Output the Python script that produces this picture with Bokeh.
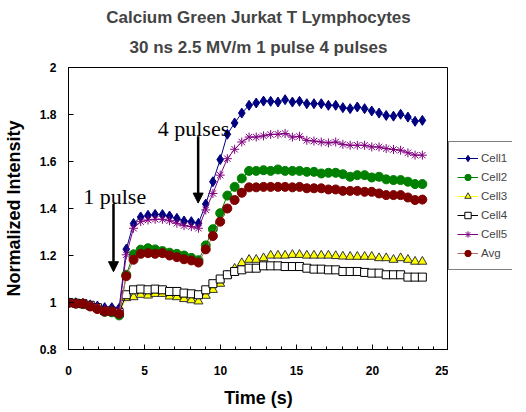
from bokeh.plotting import figure
from bokeh.layouts import row
from bokeh.models import (Range1d, FixedTicker, Legend, LegendItem, Title, Label,
                          Arrow, NormalHead, ColumnDataSource)
from bokeh.embed import file_html
from bokeh.resources import INLINE

# ---------------- data ----------------
time_s = [0.0, 0.48, 0.95, 1.43, 1.9, 2.38, 2.85, 3.33, 3.8, 4.28, 4.75, 5.23, 5.7, 6.18,
          6.65, 7.13, 7.6, 8.08, 8.55, 9.03, 9.5, 9.98, 10.45, 10.93, 11.4, 11.88, 12.35,
          12.83, 13.3, 13.78, 14.25, 14.73, 15.2, 15.68, 16.15, 16.63, 17.1, 17.58, 18.05,
          18.53, 19.0, 19.48, 19.95, 20.43, 20.9, 21.38, 21.85, 22.33, 22.8, 23.28]

cell1 = [1.0, 0.999, 0.996, 0.99, 0.985, 0.978, 0.978, 0.975,
         1.227, 1.336, 1.364, 1.371, 1.375, 1.374, 1.368, 1.358, 1.347, 1.344, 1.337,
         1.419, 1.514, 1.608, 1.716, 1.764, 1.806, 1.839, 1.849, 1.857, 1.856, 1.853,
         1.863, 1.853, 1.856, 1.846, 1.846, 1.846, 1.839, 1.839, 1.829, 1.825, 1.832,
         1.825, 1.815, 1.806, 1.796, 1.793, 1.801, 1.789, 1.771, 1.775]

cell2 = [1.0, 0.996, 0.993, 0.985, 0.975, 0.96, 0.958, 0.945,
         1.118, 1.205, 1.225, 1.231, 1.226, 1.219, 1.212, 1.207, 1.2, 1.19, 1.18,
         1.243, 1.312, 1.38, 1.455, 1.492, 1.528, 1.56, 1.56, 1.563, 1.56, 1.566,
         1.56, 1.56, 1.56, 1.556, 1.556, 1.549, 1.552, 1.552, 1.546, 1.535, 1.542,
         1.542, 1.532, 1.535, 1.524, 1.521, 1.521, 1.514, 1.504, 1.504]

cell3 = [1.0, 0.995, 0.995, 0.985, 0.975, 0.962, 0.96, 0.955,
         1.019, 1.023, 1.033, 1.03, 1.037, 1.037, 1.026, 1.023, 1.015, 1.01, 1.005,
         1.029, 1.054, 1.08, 1.116, 1.144, 1.168, 1.182, 1.182, 1.189, 1.2, 1.2,
         1.2, 1.203, 1.203, 1.2, 1.2, 1.2, 1.2, 1.198, 1.196, 1.195, 1.195,
         1.195, 1.195, 1.189, 1.189, 1.182, 1.189, 1.182, 1.174, 1.174]

cell4 = [1.0, 0.997, 0.995, 0.988, 0.978, 0.965, 0.963, 0.958,
         1.033, 1.054, 1.057, 1.054, 1.057, 1.054, 1.047, 1.047, 1.04, 1.037, 1.033,
         1.054, 1.08, 1.1, 1.118, 1.132, 1.139, 1.146, 1.146, 1.156, 1.156, 1.156,
         1.153, 1.153, 1.153, 1.146, 1.142, 1.142, 1.139, 1.139, 1.132, 1.132, 1.132,
         1.128, 1.125, 1.125, 1.118, 1.118, 1.118, 1.108, 1.108, 1.108]

cell5 = [1.0, 0.998, 0.995, 0.99, 0.983, 0.972, 0.968, 0.965,
         1.203, 1.316, 1.344, 1.351, 1.354, 1.354, 1.348, 1.337, 1.327, 1.323, 1.316,
         1.394, 1.464, 1.542, 1.612, 1.652, 1.683, 1.704, 1.704, 1.709, 1.715, 1.716,
         1.719, 1.704, 1.707, 1.69, 1.687, 1.683, 1.679, 1.683, 1.673, 1.669, 1.669,
         1.669, 1.662, 1.662, 1.655, 1.651, 1.648, 1.637, 1.627, 1.627]

avg = [0.998, 0.995, 0.995, 0.983, 0.972, 0.962, 0.962, 0.952,
       1.112, 1.182, 1.207, 1.21, 1.207, 1.21, 1.2, 1.193, 1.184, 1.179, 1.17,
       1.226, 1.283, 1.344, 1.40, 1.436, 1.467, 1.49, 1.49, 1.492, 1.492, 1.492,
       1.492, 1.49, 1.492, 1.486, 1.486, 1.486, 1.481, 1.481, 1.475, 1.475, 1.475,
       1.471, 1.471, 1.464, 1.457, 1.457, 1.457, 1.447, 1.436, 1.438]

series_names = ["Cell1", "Cell2", "Cell3", "Cell4", "Cell5", "Avg"]

x_major_ticks = [0, 5, 10, 15, 20, 25]
x_minor_ticks = list(range(0, 26))
y_major_ticks = [0.8, 1.0, 1.2, 1.4, 1.6, 1.8, 2.0]

title_lines = ["Calcium Green Jurkat T Lymphocytes", "30 ns 2.5 MV/m 1 pulse 4 pulses"]

# annotations: (label, text x, text baseline y, arrow x, arrow top y, arrow tip y)
annotations = [("1 pulse", 0.97, 1.451, 2.96, 1.419, 1.131),
               ("4 pulses", 5.87, 1.739, 8.53, 1.707, 1.423)]

# ---------------- main figure ----------------
p = figure(frame_width=380, frame_height=282, output_backend="svg", toolbar_location=None,
           x_range=Range1d(0, 25), y_range=Range1d(0.8, 2.0),
           min_border_left=60, min_border_top=59, min_border_bottom=52, min_border_right=0,
           background_fill_color="white", border_fill_color="white")
p.title = None
p.xgrid.visible = False
p.ygrid.visible = False
p.outline_line_color = "black"
p.outline_line_width = 1

sans = "Liberation Sans"
for ax in (p.xaxis[0], p.yaxis[0]):
    ax.axis_line_color = "black"
    ax.major_tick_in = 5
    ax.major_tick_out = 0
    ax.minor_tick_in = 3
    ax.minor_tick_out = 0
    ax.major_tick_line_color = "black"
    ax.minor_tick_line_color = "black"
    ax.major_label_text_font = sans
    ax.major_label_text_font_style = "bold"
    ax.major_label_text_font_size = "12px"
    ax.major_label_text_color = "black"
    ax.axis_label_text_font = sans
    ax.axis_label_text_font_style = "bold"
    ax.axis_label_text_font_size = "18px"
    ax.axis_label_text_color = "black"

p.xaxis.ticker = FixedTicker(ticks=x_major_ticks, minor_ticks=x_minor_ticks)
p.yaxis.ticker = FixedTicker(ticks=y_major_ticks, num_minor_ticks=5)
p.yaxis.major_label_overrides = {0.8: "0.8", 1.0: "1", 1.2: "1.2", 1.4: "1.4",
                                 1.6: "1.6", 1.8: "1.8", 2.0: "2"}
p.xaxis.major_label_standoff = 16
p.yaxis.major_label_standoff = 12
p.xaxis.axis_label = "Time (s)"
p.yaxis.axis_label = "Normalized Intensity"
p.xaxis.axis_label_standoff = 10
p.yaxis.axis_label_standoff = 13

src = ColumnDataSource(dict(t=time_s, Cell1=cell1, Cell2=cell2, Cell3=cell3,
                            Cell4=cell4, Cell5=cell5, Avg=avg))

styles = {
    "Cell1": dict(line="#000080", marker="diamond", size=10, fill="#000080", mline="#000080"),
    "Cell2": dict(line="#008000", marker="circle", size=9, fill="#008000", mline="#008000"),
    "Cell3": dict(line="#FFFF00", marker="triangle", size=9, fill="#FFFF00", mline="#333333"),
    "Cell4": dict(line="#000000", marker="square", size=8, fill="#FFFFFF", mline="#000000"),
    "Cell5": dict(line="#800080", marker="asterisk", size=9, fill="#800080", mline="#800080"),
    "Avg": dict(line="#B86A6A", marker="circle", size=9, fill="#800000", mline="#800000"),
}

for name in series_names:
    s = styles[name]
    p.line("t", name, source=src, line_color=s["line"], line_width=1)
    p.scatter("t", name, source=src, marker=s["marker"], size=s["size"],
              fill_color=s["fill"], line_color=s["mline"], line_width=1)

# annotations
for txt, tx, ty, ax_, ay0, ay1 in annotations:
    p.add_layout(Label(x=tx, y=ty, text=txt, text_font="Liberation Serif",
                       text_font_size="22px", text_color="black",
                       text_baseline="alphabetic", text_align="left"))
    p.add_layout(Arrow(x_start=ax_, y_start=ay0, x_end=ax_, y_end=ay1,
                       line_width=2.5, line_color="black",
                       end=NormalHead(size=10, fill_color="black", line_color="black",
                                      line_width=1)))

# titles (first added is nearest to the plot)
p.add_layout(Title(text=title_lines[1], align="center",
                   text_font=sans, text_font_style="bold", text_font_size="17px",
                   standoff=21.5), "above")
p.add_layout(Title(text=title_lines[0], align="center",
                   text_font=sans, text_font_style="bold", text_font_size="17px",
                   standoff=-5), "above")
p.add_layout(Title(text=" ", align="center", text_font=sans,
                   text_font_size="5px", standoff=0), "above")

# ---------------- legend panel (separate figure to the right) ----------------
p2 = figure(frame_width=64, frame_height=300, output_backend="svg", toolbar_location=None,
            x_range=Range1d(100, 101), y_range=Range1d(100, 101),
            min_border=0, background_fill_color="white", border_fill_color="white")
p2.title = None
p2.axis.visible = False
p2.grid.visible = False
p2.outline_line_color = None

items = []
for name in series_names:
    s = styles[name]
    lr = p2.line("t", name, source=src, line_color=s["line"], line_width=1)
    sr = p2.scatter("t", name, source=src, marker=s["marker"], size=s["size"],
                    fill_color=s["fill"], line_color=s["mline"], line_width=1)
    items.append(LegendItem(label=name, renderers=[lr, sr]))

legend = Legend(items=items, location=(0, 30), orientation="vertical",
                border_line_color="black", border_line_width=1,
                background_fill_color="white", background_fill_alpha=1,
                label_text_font=sans, label_text_font_size="11.5px",
                glyph_width=21, glyph_height=16, label_height=16, label_standoff=3,
                spacing=3, padding=8, margin=0)
p2.add_layout(legend, "center")

open("out.html", "w").write(file_html(row(p, p2), INLINE))
